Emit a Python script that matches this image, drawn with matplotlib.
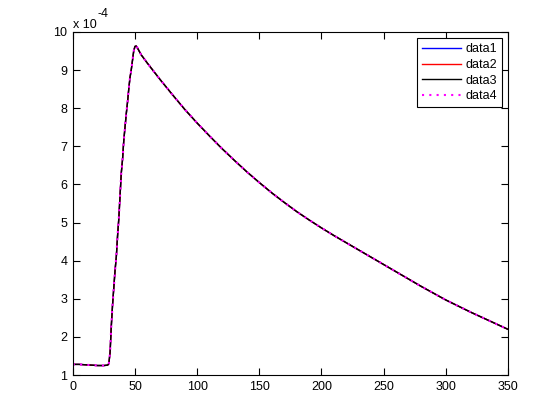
import matplotlib
matplotlib.use("Agg")
import matplotlib.pyplot as plt
from matplotlib.ticker import FuncFormatter, FixedLocator

plt.rcParams['font.family'] = ['Liberation Sans', 'DejaVu Sans']

x = [0, 5, 10, 15, 20, 25, 28, 29, 30, 31, 32, 33, 34, 35, 36, 37, 38, 39, 40,
     41, 42, 43, 44, 45, 46, 47, 48, 49, 50, 51, 52, 55, 60, 70, 80, 90, 100,
     110, 120, 130, 140, 150, 160, 170, 180, 190, 200, 210, 220, 230, 240, 250,
     260, 270, 280, 290, 300, 310, 320, 330, 340, 350]
y_scaled = [1.28, 1.28, 1.27, 1.26, 1.25, 1.25, 1.26, 1.30, 1.60, 2.30, 2.85, 3.30,
            3.75, 4.10, 4.65, 5.10, 5.70, 6.30, 6.65, 7.15, 7.50, 7.85, 8.15, 8.50,
            8.80, 9.00, 9.25, 9.50, 9.62, 9.63, 9.58, 9.40, 9.18, 8.76, 8.36, 7.97,
            7.61, 7.27, 6.94, 6.63, 6.33, 6.05, 5.78, 5.53, 5.29, 5.07, 4.86, 4.66,
            4.47, 4.28, 4.09, 3.90, 3.71, 3.52, 3.33, 3.15, 2.97, 2.81, 2.65, 2.50,
            2.35, 2.20]
y = [v * 1e-4 for v in y_scaled]

series_names = ['data1', 'data2', 'data3', 'data4']
series_colors = ['#0000ff', '#ff0000', '#000000', '#ff00ff']
series_styles = ['-', '-', '-', (0, (1, 2.5))]
series_widths = [1.0, 1.0, 1.0, 1.5]

xticks = [0, 50, 100, 150, 200, 250, 300, 350]
yticks = [1, 2, 3, 4, 5, 6, 7, 8, 9, 10]

fig = plt.figure(figsize=(5.6, 4.2), dpi=100)
ax = fig.add_axes([0.13, 0.107, 0.777, 0.817])

for name, c, ls, lw in zip(series_names, series_colors, series_styles, series_widths):
    ax.plot(x, y, color=c, linestyle=ls, linewidth=lw, label=name)

ax.set_xlim(0, 350)
ax.set_ylim(1e-4, 10e-4)
ax.xaxis.set_major_locator(FixedLocator(xticks))
ax.yaxis.set_major_locator(FixedLocator([t * 1e-4 for t in yticks]))
ax.yaxis.set_major_formatter(FuncFormatter(lambda v, p: f"{v/1e-4:.0f}"))
ax.tick_params(direction='in', top=True, right=True, length=5, width=0.8,
               labelsize=9, pad=4)
for s in ax.spines.values():
    s.set_linewidth(0.8)

fig.text(73 / 560, 1 - 28 / 420, "x 10", fontsize=9, ha='left', va='baseline')
fig.text(97 / 560, 1 - 17 / 420, "-4", fontsize=9, ha='left', va='baseline')

leg = ax.legend(loc='upper right', fontsize=9, frameon=True, fancybox=False,
                edgecolor='black', framealpha=1, borderpad=0.4,
                handlelength=3.1, handletextpad=0.35, labelspacing=0.3,
                borderaxespad=0.5)
leg.get_frame().set_linewidth(0.8)

fig.savefig("out.png", dpi=100)
